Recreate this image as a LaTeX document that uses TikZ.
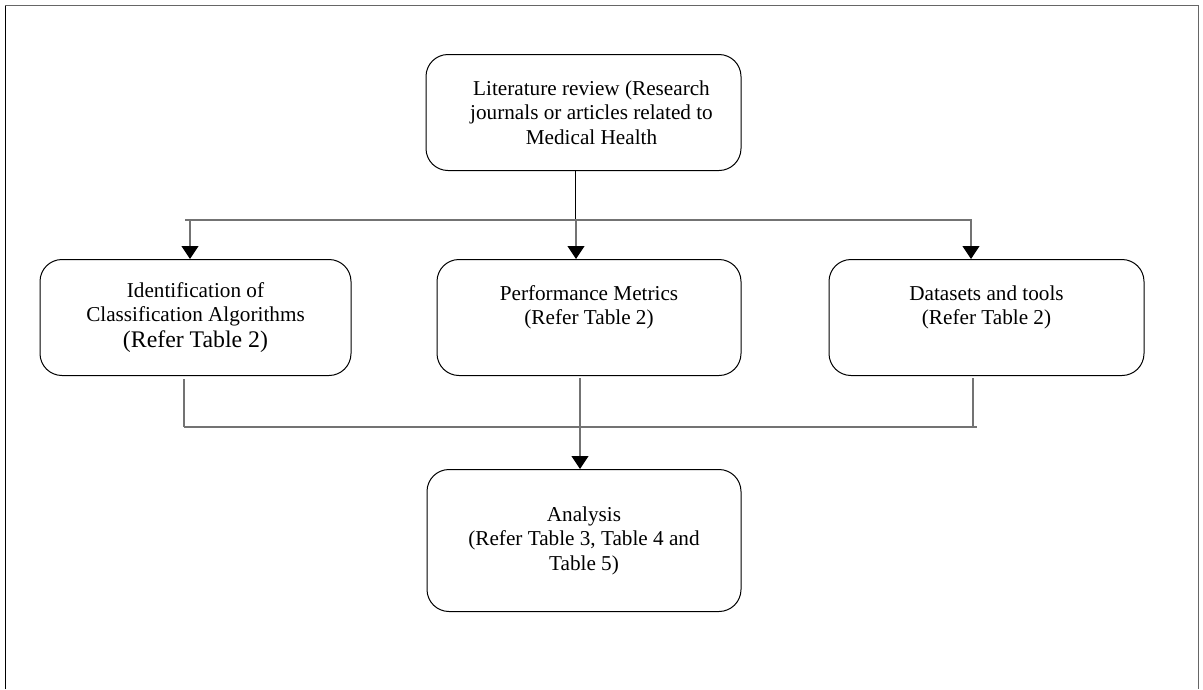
\documentclass[tikz,border=0pt]{standalone}
\usepackage{fontspec}
\setmainfont{Liberation Serif}
\usetikzlibrary{positioning,arrows.meta}
\tikzstyle{box}=[draw, rounded corners=22pt, line width=1pt, inner sep=0pt, align=center, minimum height=116pt, font=\fontsize{21.2}{24.5}\selectfont]
\tikzstyle{gline}=[draw=black!55, line width=1.6pt]
\tikzstyle{arr}=[-{Triangle[length=13pt,width=17pt,color=black]}, draw=black!55, line width=1.1pt]

\begin{document}
\begin{tikzpicture}[x=1pt, y=1pt]
	\useasboundingbox (0,0) rectangle (1203,-689);
	% frame round the figure
	\draw[black!60, line width=1.5pt] (5.5,-689) -- (5.5,-5.5) -- (1198.5,-5.5) -- (1198.5,-689);
	\draw[black, line width=1pt] (5.5,-689) -- (5.5,-6);

	\node[box, minimum width=315pt] (lit) at (583.5,-112.5) {\hspace*{16pt}Literature review (Research\\\hspace*{16pt}journals or articles related to\\\hspace*{16pt}Medical Health};
	\node[box, minimum width=304pt] (perf) [below = 88pt of lit, xshift=5.5pt] {Performance Metrics\\(Refer Table 2)\\ \mbox{}};
	\node[box, minimum width=311pt] (ident) [left = 85pt of perf] {Identification of\\Classification Algorithms\\[1pt]{\fontsize{23.8}{26}\selectfont (Refer Table 2)}};
	\node[box, minimum width=315pt] (data) [right = 87pt of perf] {Datasets and tools\\(Refer Table 2)\\ \mbox{}};
	\node[box, minimum width=314pt, minimum height=142pt] (anal) [below = 93pt of perf, xshift=-5pt] {Analysis\\(Refer Table 3, Table 4 and\\Table 5)};

	% top bus
	\coordinate (stem) at (575.5,-220);
	\coordinate (busL) at (185,-220);
	\coordinate (busR) at (972,-220);
	\coordinate (tapA) at (190,-220);
	\coordinate (tapB) at (576,-220);
	\coordinate (tapC) at (971,-220);
	\draw[line width=1pt] (stem |- lit.south) -- (stem);
	\draw[black!55, line width=1.2pt] (busL) -- (busR);
	\draw[arr] (tapA) -- (tapA |- ident.north);
	\draw[arr] (tapB) -- (tapB |- perf.north);
	\draw[arr] (tapC) -- (tapC |- data.north);

	% bottom bus
	\coordinate (dropA) at (184,-427);
	\coordinate (dropB) at (580,-427);
	\coordinate (dropC) at (973,-427);
	\coordinate (busE) at (977,-427);
	\draw[gline, shorten <=3pt] (dropA |- ident.south) -- (dropA);
	\draw[gline, shorten <=2pt] (dropB |- perf.south) -- (dropB);
	\draw[gline, shorten <=2pt] (dropC |- data.south) -- (dropC);
	\draw[gline] (dropA) -- (busE);
	\draw[arr] (dropB) -- (dropB |- anal.north);
\end{tikzpicture}
\end{document}
